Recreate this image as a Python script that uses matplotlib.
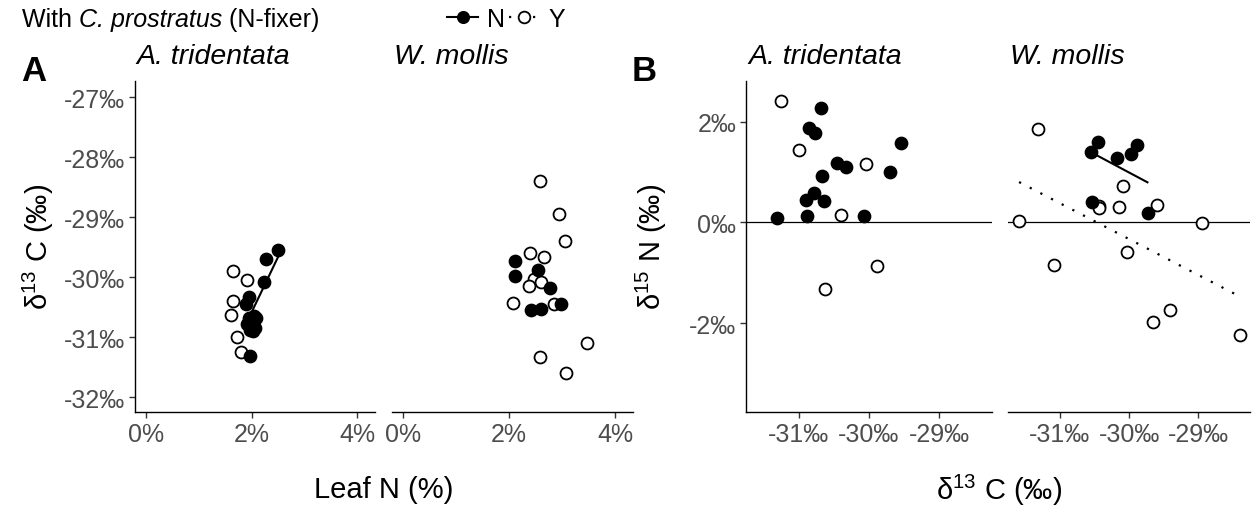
import matplotlib
matplotlib.use("Agg")
import matplotlib.pyplot as plt
from matplotlib.lines import Line2D
import numpy as np

plt.rcParams['font.family'] = ['Liberation Sans', 'DejaVu Sans']
plt.rcParams['mathtext.fontset'] = 'custom'
plt.rcParams['mathtext.rm'] = 'Liberation Sans'
plt.rcParams['mathtext.it'] = 'Liberation Sans:italic'
plt.rcParams['axes.unicode_minus'] = False

# ---------------- data ----------------
species = ["A. tridentata", "W. mollis"]

# A. tridentata, without N-fixer (N)
at_N_leafN = [2.51, 2.27, 2.24, 1.96, 1.89, 1.97, 2.05, 2.08, 1.95, 2.02, 1.92, 2.06, 1.98, 2.03]
at_N_d13C  = [-29.54, -29.70, -30.07, -30.32, -30.45, -31.31, -30.64, -30.67, -30.68, -30.76, -30.78, -30.85, -30.88, -30.90]
at_N_d15N  = [1.58, 0.99, 0.13, 1.09, 1.18, 0.08, 0.43, 0.92, 2.26, 1.78, 0.58, 1.87, 0.13, 0.45]
# A. tridentata, with N-fixer (Y)
at_Y_leafN = [1.655, 1.92, 1.64, 1.62, 1.73, 1.81]
at_Y_d13C  = [-29.89, -30.04, -30.40, -30.62, -30.99, -31.25]
at_Y_d15N  = [-0.87, 1.15, 0.15, -1.33, 1.44, 2.41]
# W. mollis, without N-fixer (N)
wm_N_leafN = [2.12, 2.55, 2.11, 2.77, 2.98, 2.61, 2.42]
wm_N_d13C  = [-29.72, -29.88, -29.97, -30.18, -30.45, -30.53, -30.55]
wm_N_d15N  = [0.18, 1.54, 1.36, 1.27, 1.60, 0.40, 1.40]
# W. mollis, with N-fixer (Y)
wm_Y_leafN = [2.58, 2.95, 3.05, 2.40, 2.66, 2.48, 2.60, 2.37, 2.07, 2.84, 3.48, 2.58, 3.08]
wm_Y_d13C  = [-28.40, -28.95, -29.40, -29.60, -29.66, -30.03, -30.08, -30.15, -30.43, -30.44, -31.09, -31.32, -31.59]
wm_Y_d15N  = [-2.24, -0.01, -1.74, 0.34, -1.98, -0.58, 0.73, 0.30, 0.33, 0.28, -0.85, 1.85, 0.03]

# fitted lines shown (slope, intercept)
fit_A_at_N = (1.84, -34.265)     # d13C ~ leafN, A. tridentata, N
fit_B_wm_N = (-0.73, -20.91)     # d15N ~ d13C, W. mollis, N
fit_B_wm_Y = (-0.711, -21.66)    # d15N ~ d13C, W. mollis, Y

A_xticks = [0, 2, 4]
A_yticks = [-27, -28, -29, -30, -31, -32]
B_xticks = [-31, -30, -29]
B_yticks = [2, 0, -2]

# ---------------- figure ----------------
W, H = 1255, 510
fig = plt.figure(figsize=(W / 100, H / 100), dpi=100)

def fx(px):
    return px / W

def fy(py):
    return 1 - py / H

top, bot = 81.7, 413
axes_px = [(134.6, 375), (391.7, 633), (746, 991.7), (1008, 1250)]
axs = [fig.add_axes([fx(l), fy(bot), fx(r - l), (bot - top) / H]) for l, r in axes_px]

TICK = 18.0
STRIP = 20.5
TITLE = 21.0

def style(ax, left_axis=True):
    for s in ['top', 'right']:
        ax.spines[s].set_visible(False)
    for s in ['left', 'bottom']:
        ax.spines[s].set_linewidth(1.0)
        ax.spines[s].set_color('black')
    ax.tick_params(direction='out', length=4, width=1.0, color='#333333',
                   labelsize=TICK, labelcolor='#4D4D4D', pad=3)
    if not left_axis:
        ax.spines['left'].set_visible(False)
        ax.tick_params(axis='y', left=False, labelleft=False)

def pts(ax, x, y, filled):
    ax.plot(x, y, linestyle='none', marker='o', ms=8.6, mew=1.3,
            mec='black', mfc='black' if filled else 'white', zorder=3)

def fitline(ax, x, fit, ls):
    xs = np.array([min(x), max(x)])
    ys = fit[0] * xs + fit[1]
    if ls == 'solid':
        ax.plot(xs, ys, color='black', lw=1.5, zorder=4, solid_capstyle='butt')
    else:
        ax.plot(xs, ys, color='black', lw=1.6, linestyle=(0, (1, 4.4)), zorder=2)

pct_fmt = plt.FuncFormatter(lambda v, p: f"{v:.0f}%")
pm_fmt = plt.FuncFormatter(lambda v, p: f"{v:.0f}\u2030")

# Panel A
data_A = [
    (at_N_leafN, at_N_d13C, at_Y_leafN, at_Y_d13C),
    (wm_N_leafN, wm_N_d13C, wm_Y_leafN, wm_Y_d13C),
]
for i, (nx, ny, yx, yy) in enumerate(data_A):
    ax = axs[i]
    style(ax, left_axis=(i == 0))
    pts(ax, yx, yy, False)
    pts(ax, nx, ny, True)
    ax.set_xlim(-0.215, 4.34)
    ax.set_ylim(-32.245, -26.72)
    ax.set_xticks(A_xticks)
    ax.set_yticks(A_yticks)
    ax.xaxis.set_major_formatter(pct_fmt)
    ax.yaxis.set_major_formatter(pm_fmt)
fitline(axs[0], at_N_leafN, fit_A_at_N, 'solid')

# Panel B
data_B = [
    (at_N_d13C, at_N_d15N, at_Y_d13C, at_Y_d15N),
    (wm_N_d13C, wm_N_d15N, wm_Y_d13C, wm_Y_d15N),
]
for i, (nx, ny, yx, yy) in enumerate(data_B):
    ax = axs[2 + i]
    style(ax, left_axis=(i == 0))
    ax.axhline(0, color='black', lw=0.9, zorder=1)
    pts(ax, yx, yy, False)
    pts(ax, nx, ny, True)
    ax.set_xlim(-31.75, -28.25)
    ax.set_ylim(-3.76, 2.81)
    ax.set_xticks(B_xticks)
    ax.set_yticks(B_yticks)
    ax.xaxis.set_major_formatter(pm_fmt)
    ax.yaxis.set_major_formatter(pm_fmt)
fitline(axs[3], wm_N_d13C, fit_B_wm_N, 'solid')
fitline(axs[3], wm_Y_d13C, fit_B_wm_Y, 'dotted')

# strip titles
for (l, r), sp in zip(axes_px, species * 2):
    fig.text(fx(l + 2), fy(57), sp, fontsize=STRIP, style='italic',
             ha='left', va='center')

# panel tags
fig.text(fx(21), fy(72), "A", fontsize=25, fontweight='bold', ha='left', va='center')
fig.text(fx(632), fy(72), "B", fontsize=25, fontweight='bold', ha='left', va='center')

# axis titles
fig.text(fx(383.8), fy(490), "Leaf N (%)", fontsize=TITLE, ha='center', va='center')
fig.text(fx(999), fy(490), "\u03b4$^{13}$ C (\u2030)", fontsize=TITLE, ha='center', va='center')
fig.text(fx(38), fy(247), "\u03b4$^{13}$ C (\u2030)", fontsize=TITLE, ha='center', va='center', rotation=90)
fig.text(fx(651), fy(247), "\u03b4$^{15}$ N (\u2030)", fontsize=TITLE, ha='center', va='center', rotation=90)

# legend title, composed of plain and italic runs
renderer = fig.canvas.get_renderer()
x_cur = 22
for txt, st in [("With ", 'normal'), ("C. prostratus", 'italic'), (" (N-fixer)", 'normal')]:
    t = fig.text(fx(x_cur), fy(20), txt, fontsize=TICK, style=st, ha='left', va='center')
    bb = t.get_window_extent(renderer=renderer)
    x_cur += bb.width

handles = [
    Line2D([], [], color='black', lw=1.5, marker='o', ms=8.4, mfc='black', mec='black'),
    Line2D([], [], color='black', lw=1.6, linestyle=(0, (1, 4.4)), marker='o', ms=8.4,
           mfc='white', mec='black', mew=1.3),
]
fig.legend(handles, ['N', 'Y'], ncol=2, loc='center left',
           bbox_to_anchor=(fx(447), fy(20)), frameon=False, fontsize=TICK,
           handlelength=1.25, handletextpad=0.35, columnspacing=0.15,
           borderpad=0, borderaxespad=0)

fig.savefig("out.png", dpi=100)
